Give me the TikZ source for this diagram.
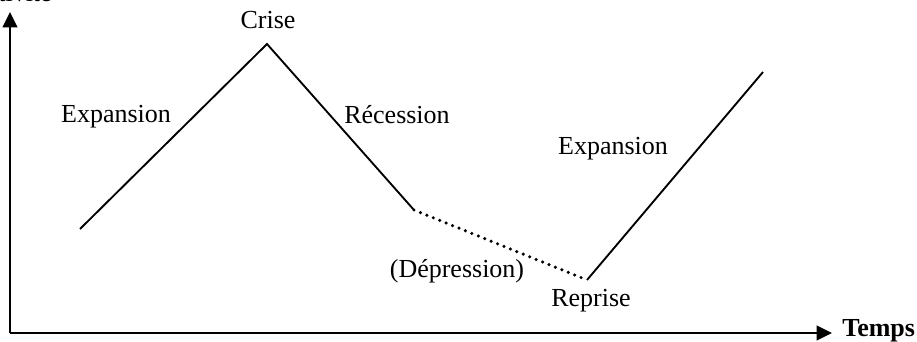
\documentclass[tikz,border=0pt]{standalone}
\usepackage{fontspec}
\setmainfont{Liberation Serif}
\usetikzlibrary{arrows.meta}
\begin{document}
\begin{tikzpicture}[x=0.75pt,y=-0.75pt,
  lbl/.style={inner sep=0pt,anchor=base,font=\fontsize{19.5}{22}\selectfont},
  axis/.style={line width=1.5pt,-{Triangle[length=11.5pt,width=11pt]}},
  curve/.style={line width=1.4pt},
  dots/.style={line width=2.6pt,line cap=round,dash pattern=on 0pt off 5.2pt}]
\useasboundingbox (0,0) rectangle (917,342);
\coordinate (o) at (10,333);
\coordinate (ytip) at (10,12);
\coordinate (xtip) at (832,333);
\draw[axis] (o) -- (ytip);
\draw[axis] (o) -- (xtip);
\node[lbl,anchor=base east] (act) at (52,2) {Activité};
\node[lbl,anchor=base west,font=\fontsize{19.5}{22}\selectfont\bfseries] (temps) at (842,336) {Temps};
\coordinate (p1) at (80,229);
\coordinate (p2) at (267,44);
\coordinate (p3) at (414,210);
\coordinate (p4) at (587,280);
\coordinate (p5) at (763,72);
\draw[curve,line join=miter] (p1) -- (p2) -- (p3);
\draw[dots] (p3) -- (p4);
\draw[curve] (p4) -- (p5);
\node[lbl] (crise) at (268,29) {Crise};
\node[lbl] (exp1) at (116,123) {Expansion};
\node[lbl] (rec) at (397,124) {Récession};
\node[lbl] (exp2) at (613,155) {Expansion};
\node[lbl] (dep) at (457,277) {(Dépression)};
\node[lbl] (rep) at (591,306) {Reprise};
\end{tikzpicture}
\end{document}
